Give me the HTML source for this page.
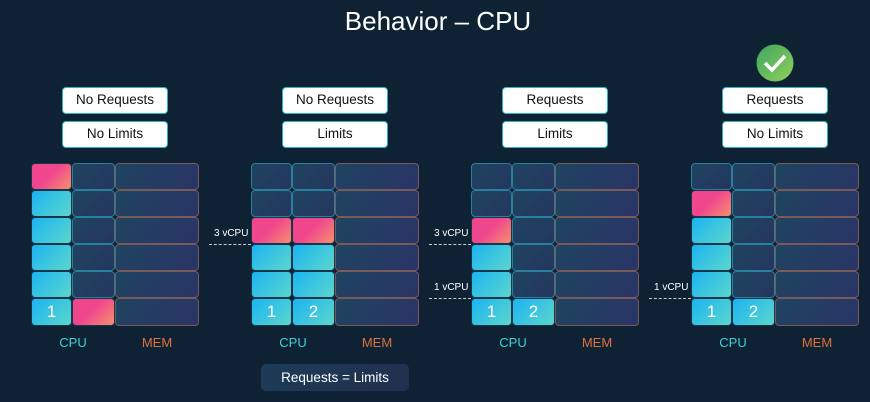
<!DOCTYPE html>
<html><head><meta charset="utf-8">
<style>
*{margin:0;padding:0;box-sizing:border-box}
body{width:870px;height:402px;background:#0e2233;position:relative;overflow:hidden;font-family:"Liberation Sans","DejaVu Sans",sans-serif}
.t{position:absolute;left:3px;width:870px;top:6px;text-align:center;color:#fff;font-size:26px}
.lb{position:absolute;width:106px;height:27px;background:#fff;border:1.5px solid #2fb4c4;border-radius:4px;color:#111;font-size:13.5px;text-align:center;line-height:24px}
.g{position:absolute;top:163px;width:168px;height:163px;display:grid;grid-template-columns:41px 43px 84px;grid-template-rows:repeat(6,1fr)}
.g div{border-radius:4px;position:relative;color:#fff;font-size:17px;text-align:center;line-height:26px}
.e{background:linear-gradient(135deg,#1f4460,#25365f);border:1px solid #27809e}
.m{background:linear-gradient(135deg,#1f4460,#2a3466);border:1px solid #785a5a}
.b{background:linear-gradient(135deg,#1ab4f2,#5cd6cc);border:1px solid #17364c}
.p{background:linear-gradient(135deg,#f0468e 45%,#f6906c);border:1px solid #17364c}
.cl{position:absolute;top:335px;font-size:13px;color:#3ed2d8;width:60px;text-align:center}
.ml{position:absolute;top:335px;font-size:13px;color:#e0703a;width:60px;text-align:center}
.vl{position:absolute;color:#fff;font-size:10px}
.dl{position:absolute;width:42px;border-top:1px dashed #ccc}
</style></head><body>
<div class="t">Behavior – CPU</div>

<div class="lb" style="left:62px;top:87px">No Requests</div>
<div class="lb" style="left:62px;top:121px">No Limits</div>
<div class="lb" style="left:282px;top:87px">No Requests</div>
<div class="lb" style="left:282px;top:121px">Limits</div>
<div class="lb" style="left:502px;top:87px">Requests</div>
<div class="lb" style="left:502px;top:121px">Limits</div>
<div class="lb" style="left:722px;top:87px">Requests</div>
<div class="lb" style="left:722px;top:121px">No Limits</div>

<svg style="position:absolute;left:756px;top:44px" width="38" height="38"><defs><linearGradient id="gg" x1="0" y1="0" x2="1" y2="1"><stop offset="0" stop-color="#3fa560"/><stop offset="1" stop-color="#8fd05a"/></linearGradient></defs><circle cx="19" cy="19" r="18.5" fill="url(#gg)"/><path d="M9 19 L16 26 L29 12" stroke="#fff" stroke-width="3.5" fill="none"/></svg>

<div class="g" style="left:31px">
<div class="p"></div><div class="e"></div><div class="m"></div>
<div class="b"></div><div class="e"></div><div class="m"></div>
<div class="b"></div><div class="e"></div><div class="m"></div>
<div class="b"></div><div class="e"></div><div class="m"></div>
<div class="b"></div><div class="e"></div><div class="m"></div>
<div class="b">1</div><div class="p"></div><div class="m"></div>
</div>
<div class="g" style="left:251px">
<div class="e"></div><div class="e"></div><div class="m"></div>
<div class="e"></div><div class="e"></div><div class="m"></div>
<div class="p"></div><div class="p"></div><div class="m"></div>
<div class="b"></div><div class="b"></div><div class="m"></div>
<div class="b"></div><div class="b"></div><div class="m"></div>
<div class="b">1</div><div class="b">2</div><div class="m"></div>
</div>
<div class="g" style="left:471px">
<div class="e"></div><div class="e"></div><div class="m"></div>
<div class="e"></div><div class="e"></div><div class="m"></div>
<div class="p"></div><div class="e"></div><div class="m"></div>
<div class="b"></div><div class="e"></div><div class="m"></div>
<div class="b"></div><div class="e"></div><div class="m"></div>
<div class="b">1</div><div class="b">2</div><div class="m"></div>
</div>
<div class="g" style="left:691px">
<div class="e"></div><div class="e"></div><div class="m"></div>
<div class="p"></div><div class="e"></div><div class="m"></div>
<div class="b"></div><div class="e"></div><div class="m"></div>
<div class="b"></div><div class="e"></div><div class="m"></div>
<div class="b"></div><div class="e"></div><div class="m"></div>
<div class="b">1</div><div class="b">2</div><div class="m"></div>
</div>

<div class="vl" style="left:214px;top:228px">3 vCPU</div><div class="dl" style="left:209px;top:244px"></div>
<div class="vl" style="left:434px;top:228px">3 vCPU</div><div class="dl" style="left:429px;top:244px"></div>
<div class="vl" style="left:434px;top:282px">1 vCPU</div><div class="dl" style="left:429px;top:298px"></div>
<div class="vl" style="left:654px;top:282px">1 vCPU</div><div class="dl" style="left:649px;top:298px"></div>

<div class="cl" style="left:43px">CPU</div><div class="ml" style="left:127px">MEM</div>
<div class="cl" style="left:263px">CPU</div><div class="ml" style="left:347px">MEM</div>
<div class="cl" style="left:483px">CPU</div><div class="ml" style="left:567px">MEM</div>
<div class="cl" style="left:703px">CPU</div><div class="ml" style="left:787px">MEM</div>

<div style="position:absolute;left:261px;top:364px;width:148px;height:27px;border-radius:5px;background:linear-gradient(135deg,#1c3c58,#22304f);color:#fff;font-size:13.5px;text-align:center;line-height:27px">Requests = Limits</div>
</body></html>
